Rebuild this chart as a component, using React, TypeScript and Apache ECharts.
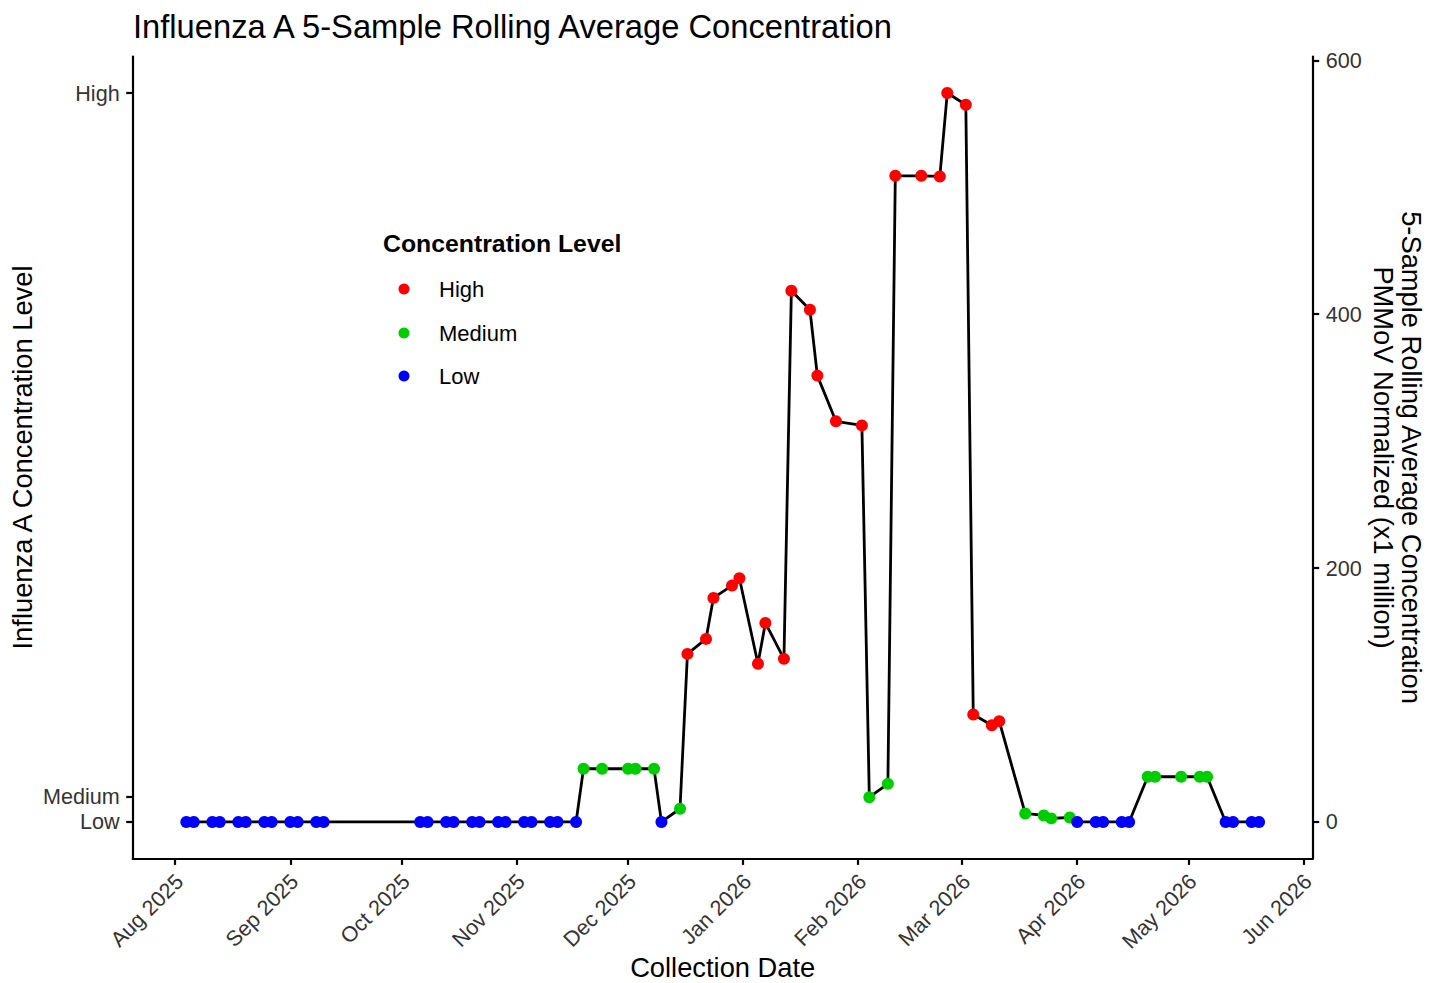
import React, { useEffect, useRef } from "react";
import * as echarts from "echarts";

// ---- Data ----
const dates: string[] = [
  "2025-08-04", "2025-08-06", "2025-08-11", "2025-08-13", "2025-08-18", "2025-08-20",
  "2025-08-25", "2025-08-27", "2025-09-01", "2025-09-03", "2025-09-08", "2025-09-10",
  "2025-10-06", "2025-10-08", "2025-10-13", "2025-10-15", "2025-10-20", "2025-10-22",
  "2025-10-27", "2025-10-29", "2025-11-03", "2025-11-05", "2025-11-10", "2025-11-12",
  "2025-11-17", "2025-11-19", "2025-11-24", "2025-12-01", "2025-12-03", "2025-12-08",
  "2025-12-10", "2025-12-15", "2025-12-17", "2025-12-22", "2025-12-24", "2025-12-29",
  "2025-12-31", "2026-01-05", "2026-01-07", "2026-01-12", "2026-01-14", "2026-01-19",
  "2026-01-21", "2026-01-26", "2026-02-02", "2026-02-04", "2026-02-09", "2026-02-11",
  "2026-02-18", "2026-02-23", "2026-02-25", "2026-03-02", "2026-03-04", "2026-03-09",
  "2026-03-11", "2026-03-18", "2026-03-23", "2026-03-25", "2026-03-30", "2026-04-01",
  "2026-04-06", "2026-04-08", "2026-04-13", "2026-04-15", "2026-04-20", "2026-04-22",
  "2026-04-29", "2026-05-04", "2026-05-06", "2026-05-11", "2026-05-13", "2026-05-18",
  "2026-05-20",
];

const values: number[] = [
  0, 0, 0, 0, 0, 0,
  0, 0, 0, 0, 0, 0,
  0, 0, 0, 0, 0, 0,
  0, 0, 0, 0, 0, 0,
  0, 41.9, 41.9, 41.9, 41.9, 41.9,
  0, 10.4, 132.4, 144.2, 176.5, 186.2,
  192, 124.6, 156.8, 128.5, 418.5, 403.5,
  351.6, 315.6, 312.4, 19.5, 30, 509,
  509, 508.5, 574.2, 565, 84.6, 76.2,
  79.4, 6.7, 5.1, 2.8, 3.5, 0,
  0, 0, 0, 0, 35.6, 35.6,
  35.6, 35.6, 35.6, 0, 0, 0,
  0,
];

const levels: string[] = [
  "Low", "Low", "Low", "Low", "Low", "Low",
  "Low", "Low", "Low", "Low", "Low", "Low",
  "Low", "Low", "Low", "Low", "Low", "Low",
  "Low", "Low", "Low", "Low", "Low", "Low",
  "Low", "Medium", "Medium", "Medium", "Medium", "Medium",
  "Low", "Medium", "High", "High", "High", "High",
  "High", "High", "High", "High", "High", "High",
  "High", "High", "High", "Medium", "Medium", "High",
  "High", "High", "High", "High", "High", "High",
  "High", "Medium", "Medium", "Medium", "Medium", "Low",
  "Low", "Low", "Low", "Low", "Medium", "Medium",
  "Medium", "Medium", "Medium", "Low", "Low", "Low",
  "Low",
];

const levelNames: string[] = ["High", "Medium", "Low"];
const levelColors: string[] = ["#FF0000", "#00CD00", "#0000FF"];

// left axis (concentration level) tick positions & labels
const levelTickValues: number[] = [0, 20, 574.2];
const levelTickLabels: string[] = ["Low", "Medium", "High"];

// right axis ticks
const rightTickValues: number[] = [0, 200, 400, 600];

// x-axis month ticks
const monthTicks: string[] = [
  "2025-08-01", "2025-09-01", "2025-10-01", "2025-11-01", "2025-12-01", "2026-01-01",
  "2026-02-01", "2026-03-01", "2026-04-01", "2026-05-01", "2026-06-01",
];
const monthNames = ["Jan", "Feb", "Mar", "Apr", "May", "Jun", "Jul", "Aug", "Sep", "Oct", "Nov", "Dec"];

const FONT = "'Liberation Sans', Arial, Helvetica, sans-serif";

function ts(d: string): number {
  const [y, m, day] = d.split("-").map(Number);
  return Date.UTC(y, m - 1, day);
}

export default function App() {
  const ref = useRef<HTMLDivElement>(null);

  useEffect(() => {
    document.body.style.margin = "0";
    if (!ref.current) return;
    const chart = echarts.init(ref.current, undefined, { renderer: "svg" });

    const times = dates.map(ts);
    const tMin = Math.min(...times);
    const tMax = Math.max(...times);
    const tPad = (tMax - tMin) * 0.05;
    const vMin = Math.min(...values);
    const vMax = Math.max(...values);
    const vPad = (vMax - vMin) * 0.05;

    const lineData = times.map((t, i) => [t, values[i]]);
    const scatterSeries = levelNames.map((lv, k) => ({
      type: "scatter",
      name: lv,
      xAxisIndex: 0,
      yAxisIndex: 0,
      symbol: "circle",
      symbolSize: 12,
      itemStyle: { color: levelColors[k], opacity: 1 },
      z: 3,
      data: times
        .map((t, i) => (levels[i] === lv ? [t, values[i]] : null))
        .filter((x) => x !== null),
    }));

    const axisLineStyle = { color: "#000", width: 2.2 };
    const tickStyle = { color: "#000", width: 2.2 };
    const labelStyle = { color: "#333", fontSize: 21.6, fontFamily: FONT };

    const legendY = [289, 333, 376];

    const option: any = {
      animation: false,
      backgroundColor: "#fff",
      grid: { left: 132.7, right: 130.3, top: 56.6, bottom: 124.6, containLabel: false },
      xAxis: {
        type: "value",
        min: tMin - tPad,
        max: tMax + tPad,
        axisLine: { show: true, onZero: false, lineStyle: axisLineStyle },
        axisTick: {
          show: true,
          length: 6.5,
          lineStyle: tickStyle,
          customValues: monthTicks.map(ts),
        },
        axisLabel: {
          ...labelStyle,
          rotate: 45,
          margin: 8,
          verticalAlign: "top",
          padding: [0, 5, 0, 0],
          customValues: monthTicks.map(ts),
          formatter: (v: number) => {
            const d = new Date(v);
            return monthNames[d.getUTCMonth()] + " " + d.getUTCFullYear();
          },
        },
        splitLine: { show: false },
      },
      yAxis: [
        {
          type: "value",
          position: "left",
          min: vMin - vPad,
          max: vMax + vPad,
          axisLine: { show: true, onZero: false, lineStyle: axisLineStyle },
          axisTick: { show: true, length: 6.5, lineStyle: tickStyle, customValues: levelTickValues },
          axisLabel: {
            ...labelStyle,
            margin: 13,
            customValues: levelTickValues,
            formatter: (v: number) => {
              let best = 0;
              levelTickValues.forEach((tv, i) => {
                if (Math.abs(tv - v) < Math.abs(levelTickValues[best] - v)) best = i;
              });
              return levelTickLabels[best];
            },
          },
          splitLine: { show: false },
        },
        {
          type: "value",
          position: "right",
          min: vMin - vPad,
          max: vMax + vPad,
          axisLine: { show: true, onZero: false, lineStyle: axisLineStyle },
          axisTick: { show: true, length: 6.5, lineStyle: tickStyle, customValues: rightTickValues },
          axisLabel: {
            ...labelStyle,
            margin: 13,
            customValues: rightTickValues,
            formatter: (v: number) => String(Math.round(v)),
          },
          splitLine: { show: false },
        },
      ],
      series: [
        {
          type: "line",
          name: "rolling",
          xAxisIndex: 0,
          yAxisIndex: 0,
          data: lineData,
          symbol: "none",
          lineStyle: { color: "#000", width: 2.8 },
          z: 2,
        },
        ...scatterSeries,
      ],
      graphic: [
        {
          type: "text",
          x: 133,
          y: 26,
          style: {
            text: "Influenza A 5-Sample Rolling Average Concentration",
            font: `32.7px ${FONT}`,
            fill: "#000",
            align: "left",
            verticalAlign: "middle",
          },
        },
        {
          type: "text",
          x: 722.7,
          y: 967,
          style: {
            text: "Collection Date",
            font: `27.3px ${FONT}`,
            fill: "#000",
            align: "center",
            verticalAlign: "middle",
          },
        },
        {
          type: "text",
          x: 22,
          y: 457.5,
          rotation: Math.PI / 2,
          style: {
            text: "Influenza A Concentration Level",
            font: `27.3px ${FONT}`,
            fill: "#000",
            align: "center",
            verticalAlign: "middle",
          },
        },
        {
          type: "text",
          x: 1397,
          y: 457.5,
          rotation: -Math.PI / 2,
          style: {
            text: "5-Sample Rolling Average Concentration\nPMMoV Normalized (x1 million)",
            font: `27.3px ${FONT}`,
            lineHeight: 28,
            fill: "#000",
            align: "center",
            verticalAlign: "middle",
          },
        },
        {
          type: "text",
          x: 383,
          y: 243,
          style: {
            text: "Concentration Level",
            font: `bold 24.8px ${FONT}`,
            fill: "#000",
            align: "left",
            verticalAlign: "middle",
          },
        },
        ...levelNames.map((lv, k) => ({
          type: "circle",
          shape: { cx: 404, cy: legendY[k], r: 5.5 },
          style: { fill: levelColors[k] },
        })),
        ...levelNames.map((lv, k) => ({
          type: "text",
          x: 439,
          y: legendY[k],
          style: {
            text: lv,
            font: `22px ${FONT}`,
            fill: "#000",
            align: "left",
            verticalAlign: "middle",
          },
        })),
      ],
    };

    chart.setOption(option);
    return () => chart.dispose();
  }, []);

  return <div ref={ref} style={{ width: 1443, height: 983 }} />;
}
